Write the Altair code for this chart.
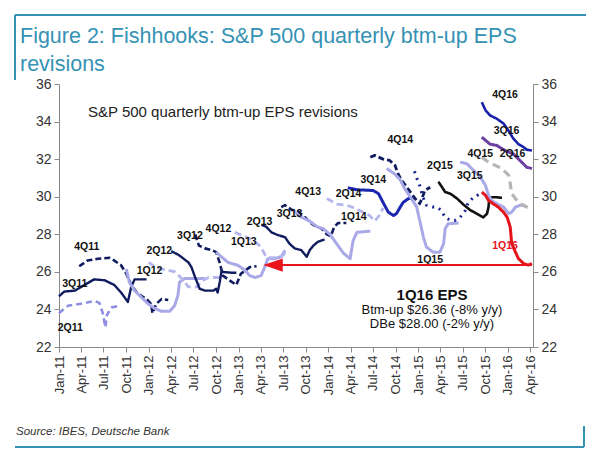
import altair as alt
import pandas as pd

# ---------------- data (months since Jan-2011, EPS $) ----------------
s2q11_m = [0, 1.2, 2.9, 4.7, 5.4, 5.85, 6.2, 6.4, 7.0, 8.1]
s2q11_v = [23.8, 24.2, 24.3, 24.45, 24.35, 23.8, 23.05, 23.7, 24.1, 24.2]

s3q11_m = [0, 0.7, 2.1, 3.4, 4.7, 6.1, 7.4, 8.3, 9.2, 9.4, 9.65, 10.1, 11.7]
s3q11_v = [24.7, 24.95, 25.0, 25.3, 25.6, 25.55, 25.3, 24.9, 24.4, 24.75, 25.2, 25.6, 25.6]

s4q11_m = [2.7, 3.8, 5.2, 6.75, 7.4, 8.3, 9.0, 9.65, 10.5, 11.7, 12.3, 12.5, 13.0, 13.7, 14.6]
s4q11_v = [26.3, 26.6, 26.7, 26.75, 26.6, 26.35, 25.9, 25.3, 24.85, 24.55, 24.3, 23.8, 24.3, 24.55, 24.5]

s1q12_m = [9.0, 9.4, 10.1, 11.0, 11.9, 12.8, 13.7, 14.8, 15.45, 15.9, 16.1, 16.8, 18.1, 19.5]
s1q12_v = [26.15, 25.45, 25.0, 24.65, 24.3, 24.05, 23.9, 23.9, 24.2, 24.75, 25.45, 25.65, 25.65, 25.65]

s2q12_m = [12.0, 13.0, 14.5, 15.5, 16.5, 17.3, 18.5, 19.0, 20.0, 21.5]
s2q12_v = [26.5, 26.2, 26.1, 26.0, 25.6, 25.2, 25.2, 25.5, 25.7, 25.7]

s3q12_m = [15.0, 16.0, 17.3, 17.7, 18.2, 18.5, 18.8, 19.5, 20.6, 21.0, 21.2, 21.5, 21.7, 23.2, 23.7]
s3q12_v = [27.1, 26.9, 26.5, 26.25, 25.7, 25.4, 25.1, 25.0, 25.0, 25.1, 24.9, 25.5, 26.0, 25.95, 25.95]

s4q12_m = [18.2, 18.7, 19.5, 20.5, 21.0, 21.5, 21.9, 22.8, 23.7, 24.3, 25.5, 26.4]
s4q12_v = [28.0, 27.4, 27.25, 27.15, 27.05, 26.45, 25.8, 25.55, 25.3, 25.9, 26.25, 26.3]

s1q13_m = [21.0, 21.7, 22.6, 23.9, 24.8, 25.5, 26.2, 27.0, 27.5, 27.9, 28.8, 29.7, 30.2]
s1q13_v = [27.05, 26.8, 26.5, 26.35, 26.1, 25.8, 25.7, 25.8, 26.25, 26.7, 26.7, 26.8, 27.15]

s2q13d_m = [23.5, 24.1, 25.0, 25.9, 26.8, 27.2, 27.7, 28.2, 29.0, 30.0, 30.5]
s2q13d_v = [28.1, 28.0, 27.85, 27.7, 27.4, 27.15, 26.8, 26.75, 26.75, 26.9, 27.2]

s2q13_m = [27.05, 27.7, 28.4, 29.3, 30.2, 30.8, 31.5, 32.4, 33.1, 33.5, 34.0, 34.6, 35.3, 35.5]
s2q13_v = [28.5, 28.4, 28.1, 27.95, 27.85, 27.5, 27.25, 27.15, 26.8, 27.15, 27.4, 27.6, 27.7, 27.7]

s3q13_m = [29.7, 30.2, 31.1, 32.0, 32.9, 33.5, 34.2, 35.1, 35.8, 36.3, 36.8, 37.3, 38.4]
s3q13_v = [29.45, 29.55, 29.3, 29.2, 28.9, 28.65, 28.45, 28.3, 28.0, 27.9, 28.4, 28.6, 28.6]

s4q13_m = [31.3, 32.2, 33.5, 34.5, 35.3, 36.2, 37.1, 38.0, 38.9, 39.3, 39.8, 41.6]
s4q13_v = [29.3, 28.95, 28.7, 28.4, 28.3, 28.0, 27.5, 27.0, 26.7, 27.65, 28.1, 28.17]

s1q14_m = [35.8, 37.2, 38.4, 39.5, 40.5, 41.5, 42.2, 42.8, 43.3]
s1q14_v = [29.9, 29.6, 29.55, 29.4, 29.2, 29.0, 28.7, 29.0, 29.4]

s2q14_m = [38.6, 39.8, 42.0, 42.7, 43.3, 44.0, 44.7, 45.1, 45.6, 46.0, 46.7, 47.4]
s2q14_v = [30.48, 30.37, 30.33, 30.16, 29.7, 29.18, 29.0, 29.1, 29.45, 29.7, 29.9, 29.9]

s4q14_m = [41.6, 42.2, 43.3, 44.2, 44.9, 45.3, 45.8, 46.5, 47.1, 47.8, 48.2, 48.5, 48.9, 49.6]
s4q14_v = [32.1, 32.2, 32.0, 31.93, 31.67, 31.22, 30.87, 30.5, 30.16, 29.8, 29.63, 29.9, 30.34, 30.5]

s1q15_m = [43.8, 44.9, 45.6, 46.2, 47.1, 47.8, 48.2, 48.7, 49.1, 50.0, 50.9, 51.4, 51.6, 52.0, 53.4]
s1q15_v = [31.5, 31.2, 30.9, 30.43, 29.9, 29.45, 28.74, 27.85, 27.32, 27.05, 27.05, 27.5, 28.3, 28.56, 28.6]

s2q15_m = [47.5, 47.8, 48.2, 48.6, 49.1, 50.0, 50.5, 51.1, 51.6, 52.3, 52.9, 53.6, 54.3, 54.7, 55.4, 56.3]
s2q15_v = [31.35, 31.0, 30.6, 30.0, 29.55, 29.45, 29.45, 29.27, 28.9, 28.74, 28.74, 28.9, 29.27, 29.7, 29.97, 30.16]

s3q15k_m = [50.7, 51.2, 51.6, 52.3, 53.2, 54.0, 54.9, 55.8, 56.7, 57.2, 57.4, 57.5, 57.8, 58.5, 59.2]
s3q15k_v = [30.8, 30.5, 30.25, 30.16, 29.9, 29.6, 29.3, 29.1, 28.9, 29.1, 29.45, 29.9, 29.97, 29.97, 29.94]

s3q15_m = [53.6, 54.5, 55.4, 56.3, 57.0, 57.4, 57.8, 58.5, 59.4, 60.1, 60.5, 61.0, 61.6, 62.3]
s3q15_v = [31.84, 31.76, 31.4, 31.04, 30.6, 30.07, 29.8, 29.63, 29.45, 29.1, 29.18, 29.45, 29.54, 29.54]

s4q15_m = [56.5, 57.4, 58.3, 59.2, 60.1, 60.3, 60.5, 61.0, 61.6, 62.5, 63.0]
s4q15_v = [32.1, 31.84, 31.67, 31.5, 31.13, 30.69, 30.16, 29.9, 29.63, 29.45, 29.36]

s1q16_m = [56.5, 57.0, 57.4, 58.0, 58.7, 59.4, 59.9, 60.3, 60.5, 61.0, 61.4, 62.1, 62.7, 63.2]
s1q16_v = [30.25, 30.07, 29.8, 29.63, 29.45, 29.18, 28.9, 28.38, 27.5, 27.05, 26.7, 26.44, 26.36, 26.44]

s2q16_m = [56.5, 57.0, 57.6, 58.5, 59.6, 60.7, 61.6, 62.5, 63.2]
s2q16_v = [33.17, 33.0, 32.8, 32.73, 32.46, 32.28, 31.93, 31.57, 31.5]

s4q16_m = [56.5, 57.0, 57.6, 58.5, 59.4, 60.1, 60.7, 61.4, 62.1, 62.5, 63.2]
s4q16_v = [35.03, 34.6, 34.33, 34.15, 33.9, 33.5, 33.1, 32.8, 32.64, 32.5, 32.46]

# series labels placed on the chart
label_text = ["2Q11", "3Q11", "4Q11", "1Q12", "2Q12", "3Q12", "4Q12", "1Q13", "2Q13",
              "3Q13", "4Q13", "2Q14", "1Q14", "3Q14", "4Q14", "1Q15", "2Q15", "3Q15",
              "4Q15", "1Q16", "2Q16", "3Q16", "4Q16"]
label_m = [1.5, 2.1, 3.7, 12.1, 13.4, 17.5, 21.3, 24.7, 26.8, 30.8, 33.3, 38.7, 39.4,
           42.0, 45.6, 49.6, 50.9, 54.9, 56.3, 59.6, 60.6, 59.8, 59.6]
label_v = [23.0, 25.33, 27.3, 26.03, 27.1, 27.9, 28.3, 27.57, 28.65, 29.1, 30.23, 30.16,
           28.9, 30.9, 33.0, 26.65, 31.66, 31.08, 32.25, 27.4, 32.3, 33.5, 35.4]

# arrow: 1Q16 bottom-up EPS level carried back
arrow_level = 26.36
arrow_from_m = 63.2
arrow_to_m = 28.6

# ---------------- styles ----------------
NAVY = "#111c5e"
LAV = "#a9a9e8"
LAVD = "#b6b6ee"
series = [
    ("2Q11", s2q11_m, s2q11_v, "#8d8de2", [6, 4], 2.6),
    ("3Q11", s3q11_m, s3q11_v, NAVY, [1, 0], 2.4),
    ("4Q11", s4q11_m, s4q11_v, NAVY, [6, 3], 2.6),
    ("1Q12", s1q12_m, s1q12_v, LAV, [1, 0], 3.0),
    ("2Q12", s2q12_m, s2q12_v, LAVD, [7, 4], 2.8),
    ("3Q12", s3q12_m, s3q12_v, NAVY, [1, 0], 2.4),
    ("4Q12", s4q12_m, s4q12_v, NAVY, [6, 3], 2.6),
    ("1Q13", s1q13_m, s1q13_v, LAV, [1, 0], 3.0),
    ("2Q13d", s2q13d_m, s2q13d_v, LAVD, [7, 4], 2.8),
    ("2Q13", s2q13_m, s2q13_v, NAVY, [1, 0], 2.4),
    ("3Q13", s3q13_m, s3q13_v, NAVY, [6, 3], 2.6),
    ("4Q13", s4q13_m, s4q13_v, LAV, [1, 0], 3.0),
    ("1Q14", s1q14_m, s1q14_v, LAVD, [7, 4], 2.8),
    ("2Q14", s2q14_m, s2q14_v, "#1b27ad", [1, 0], 3.0),
    ("4Q14", s4q14_m, s4q14_v, NAVY, [6, 3], 2.8),
    ("1Q15", s1q15_m, s1q15_v, LAV, [1, 0], 3.0),
    ("2Q15", s2q15_m, s2q15_v, "#1b2590", [2, 5], 3.0),
    ("3Q15k", s3q15k_m, s3q15k_v, "#111111", [1, 0], 2.6),
    ("3Q15", s3q15_m, s3q15_v, LAV, [1, 0], 3.0),
    ("4Q15", s4q15_m, s4q15_v, "#b5b5b5", [8, 5], 3.2),
    ("1Q16", s1q16_m, s1q16_v, "#e3141c", [1, 0], 3.0),
    ("2Q16", s2q16_m, s2q16_v, "#6c3fa3", [1, 0], 3.0),
    ("4Q16", s4q16_m, s4q16_v, "#1b22aa", [1, 0], 2.6),
]

BASE = pd.Timestamp("2011-01-01")


def to_date(m):
    return (BASE + pd.to_timedelta(m * 30.4375, unit="D")).strftime("%Y-%m-%dT%H:%M:%S")


rows = []
for name, ms, vs, col, dash, w in series:
    for i, (m, v) in enumerate(zip(ms, vs)):
        rows.append({"series": name, "idx": i, "date": to_date(m), "eps": v, "w": w})
df = pd.DataFrame(rows)

names = [s[0] for s in series]
colors = [s[3] for s in series]
dashes = [s[4] for s in series]

lab_df = pd.DataFrame({
    "label": label_text,
    "date": [to_date(m) for m in label_m],
    "eps": label_v,
    "col": ["#e3141c" if t == "1Q16" else "#111111" for t in label_text],
})

arrow_df = pd.DataFrame({"d1": [to_date(arrow_to_m)], "d2": [to_date(arrow_from_m)], "eps": [arrow_level]})
head_df = pd.DataFrame({"date": [to_date(arrow_to_m)], "eps": [arrow_level]})

W, H = 474, 263
PL, PT = 59, 84
FONT = "Liberation Sans"

xscale = alt.Scale(domain=[alt.DateTime(year=2011, month=1, date=1),
                           alt.DateTime(year=2016, month=4, date=12)])
yscale = alt.Scale(domain=[22, 36], nice=False, zero=False)

tick_dates = [alt.DateTime(year=y, month=mo, date=1)
              for y in range(2011, 2017) for mo in (1, 4, 7, 10)
              if not (y == 2016 and mo > 4)]

xaxis = alt.Axis(values=tick_dates, format="%b-%y", labelAngle=270, labelFontSize=13,
                 labelColor="#333333", tickSize=5, tickColor="#8a8a8a", domainColor="#8a8a8a",
                 grid=False, title=None, labelPadding=3, labelOverlap=False, labelFont=FONT,
                 orient="bottom")


def yaxis(orient):
    return alt.Axis(values=list(range(22, 37, 2)), orient=orient, labelFontSize=14,
                    labelColor="#333333", tickSize=5, tickColor="#8a8a8a",
                    domainColor="#8a8a8a", grid=False, title=None, labelPadding=3,
                    labelFont=FONT)


lines = alt.Chart(df).mark_line(strokeJoin="round", strokeCap="butt").encode(
    x=alt.X("date:T", scale=xscale, axis=xaxis),
    y=alt.Y("eps:Q", scale=yscale, axis=yaxis("left")),
    color=alt.Color("series:N", scale=alt.Scale(domain=names, range=colors), legend=None),
    strokeDash=alt.StrokeDash("series:N", scale=alt.Scale(domain=names, range=dashes), legend=None),
    strokeWidth=alt.StrokeWidth("w:Q", scale=None),
    order=alt.Order("idx:Q"),
)

right_axis = alt.Chart(pd.DataFrame({"eps": [22, 36]})).mark_point(opacity=0).encode(
    y=alt.Y("eps:Q", scale=yscale, axis=yaxis("right")),
)

labels = alt.Chart(lab_df).mark_text(fontSize=10.5, fontWeight="bold", font=FONT).encode(
    x=alt.X("date:T", scale=xscale, axis=None),
    y=alt.Y("eps:Q", scale=yscale, axis=None),
    text="label:N",
    color=alt.Color("col:N", scale=None),
)

arrow_line = alt.Chart(arrow_df).mark_rule(color="#e8161c", strokeWidth=2).encode(
    x=alt.X("d1:T", scale=xscale, axis=None),
    x2="d2:T",
    y=alt.Y("eps:Q", scale=yscale, axis=None),
)
arrow_head = alt.Chart(head_df).mark_point(
    shape="M-1,0L1,-0.68L1,0.68Z", size=380, filled=True, color="#e8161c", opacity=1
).encode(
    x=alt.X("date:T", scale=xscale, axis=None),
    y=alt.Y("eps:Q", scale=yscale, axis=None),
)

one = pd.DataFrame({"a": [0]})


def txt(text, x, y, **kw):
    return alt.Chart(one).mark_text(text=text, **kw).encode(x=alt.value(x), y=alt.value(y))


TEAL = "#3592b4"


def hrule(x1, x2, y, color=TEAL, w=2):
    return alt.Chart(one).mark_rule(color=color, strokeWidth=w).encode(
        x=alt.value(x1), x2=alt.value(x2), y=alt.value(y))


def vrule(x, y1, y2, color=TEAL, w=2):
    return alt.Chart(one).mark_rule(color=color, strokeWidth=w).encode(
        x=alt.value(x), y=alt.value(y1), y2=alt.value(y2))


title1 = txt("Figure 2: Fishhooks: S&P 500 quarterly btm-up EPS", 20 - PL, 43 - PT,
             align="left", baseline="alphabetic", fontSize=21.5, color=TEAL, font=FONT)
title2 = txt("revisions", 20 - PL, 71 - PT,
             align="left", baseline="alphabetic", fontSize=21.5, color=TEAL, font=FONT)
inner = txt("S&P 500 quarterly btm-up EPS revisions", 88 - PL, 112 - PT,
            align="left", baseline="middle", fontSize=15, color="#222222", font=FONT)
ann1 = txt("1Q16 EPS", 432 - PL, 295 - PT, align="center", baseline="middle",
           fontSize=15, fontWeight="bold", color="#111111", font=FONT)
ann2 = txt("Btm-up $26.36 (-8% y/y)", 432 - PL, 310 - PT, align="center", baseline="middle",
           fontSize=13, color="#111111", font=FONT)
ann3 = txt("DBe $28.00 (-2% y/y)", 432 - PL, 324 - PT, align="center", baseline="middle",
           fontSize=13, color="#111111", font=FONT)
source = txt("Source: IBES, Deutsche Bank", 16 - PL, 432 - PT, align="left", baseline="middle",
             fontSize=11.5, fontStyle="italic", color="#333333", font=FONT)

frame = [
    hrule(15 - PL, 586 - PL, 15 - PT),
    vrule(15 - PL, 15 - PT, 80 - PT),
    hrule(15 - PL, 584 - PL, 447 - PT),
    vrule(584 - PL, 426 - PT, 447 - PT),
]

chart = alt.layer(
    lines, right_axis, labels, arrow_line, arrow_head,
    title1, title2, inner, ann1, ann2, ann3, source, *frame
).resolve_axis(y="independent", x="independent").properties(
    width=W, height=H,
    autosize=alt.AutoSizeParams(type="none"),
    padding={"left": PL, "top": PT, "right": 600 - PL - W, "bottom": 453 - PT - H},
).configure_view(stroke=None)

chart.save("out.html", embed_options={"renderer": "svg", "actions": False})
